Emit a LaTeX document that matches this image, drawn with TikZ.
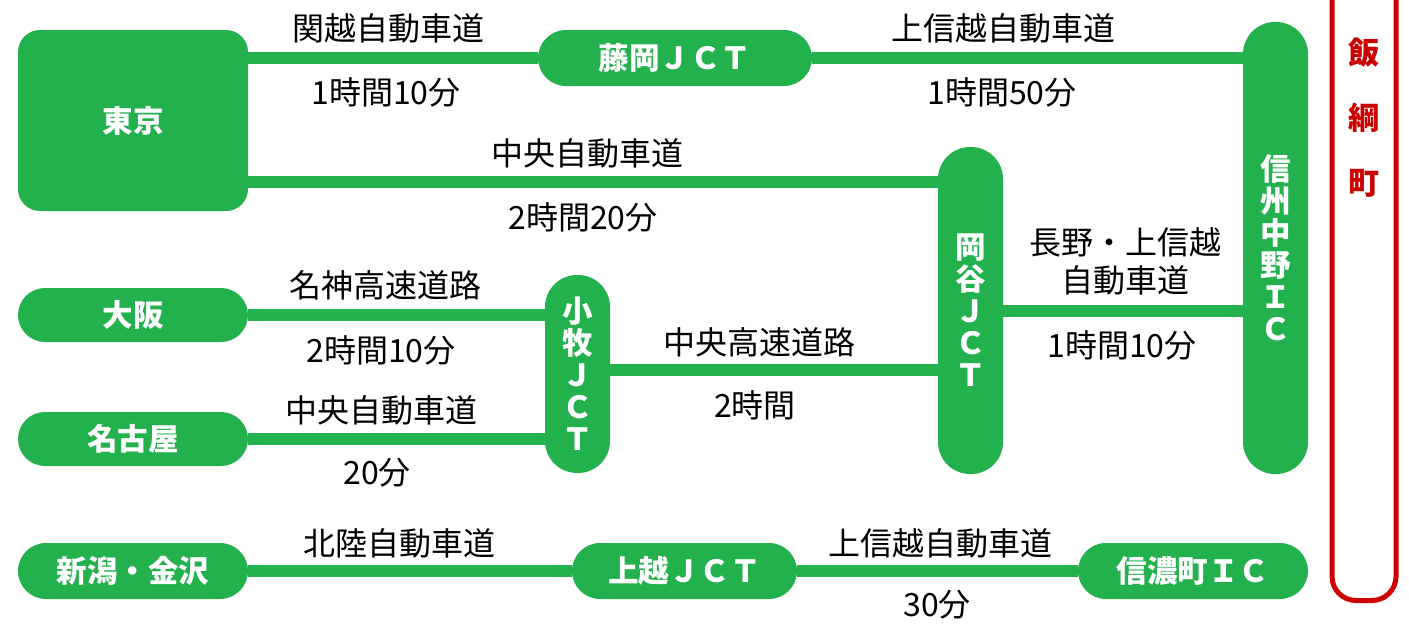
\documentclass[tikz,border=0pt]{standalone}
\usepackage{fontspec}
\newfontfamily\jp{Noto Sans CJK JP}
\definecolor{roadgreen}{RGB}{34,177,76}
\definecolor{iizunared}{RGB}{204,0,0}
\begin{document}
\begin{tikzpicture}[x=1pt, y=-1pt,
    place/.style={fill=roadgreen, text=white, inner sep=0pt, font=\jp\bfseries\fontsize{30.5}{32}\selectfont, align=center},
    road/.style={draw=roadgreen, line width=12pt},
    lbl/.style={inner sep=0pt, font=\jp\fontsize{32}{38}\selectfont, align=center}]
            \useasboundingbox (0,0) rectangle (1409,629);
            \node[place, rounded corners=22pt, minimum width=230pt, minimum height=181pt] (tokyo) at (133,120.5) {東京};
            \node[place, rounded corners=28pt, minimum width=274pt, minimum height=56pt] (fujioka) at (675,58) {藤岡ＪＣＴ};
            \node[place, rounded corners=32pt, minimum width=65pt, minimum height=452pt] (shinshu) at (1275.5,248) {信\\州\\中\\野\\Ｉ\\Ｃ};
            \node[place, rounded corners=32pt, minimum width=65pt, minimum height=327pt] (okaya) at (970.5,310.5) {岡\\谷\\Ｊ\\Ｃ\\Ｔ};
            \node[place, rounded corners=32pt, minimum width=65pt, minimum height=198pt] (komaki) at (577.5,374) {小\\牧\\Ｊ\\Ｃ\\Ｔ};
            \node[place, rounded corners=27pt, minimum width=230pt, minimum height=54pt] (osaka) at (133,315) {大阪};
            \node[place, rounded corners=27pt, minimum width=230pt, minimum height=54pt] (nagoya) at (133,439) {名古屋};
            \node[place, rounded corners=28pt, minimum width=230pt, minimum height=56pt] (niigata) at (133,571) {新潟・金沢};
            \node[place, rounded corners=28pt, minimum width=225pt, minimum height=56pt] (joetsu) at (684.5,571) {上越ＪＣＴ};
            \node[place, rounded corners=28pt, minimum width=230pt, minimum height=56pt] (shinano) at (1193,571) {信濃町ＩＣ};
            \draw[road] (fujioka.west -| tokyo.east) -- (fujioka.west);
            \draw[road] (fujioka.east) -- (fujioka.east -| shinshu.west);
            \draw[road] ([yshift=-61.5pt]tokyo.east) -- ([yshift=-61.5pt]tokyo.east -| okaya.west);
            \draw[road] (osaka.east) -- (osaka.east -| komaki.west);
            \draw[road] (nagoya.east) -- (nagoya.east -| komaki.west);
            \draw[road] ([yshift=4pt]komaki.east) -- ([yshift=4pt]komaki.east -| okaya.west);
            \draw[road] (okaya.east) -- (okaya.east -| shinshu.west);
            \draw[road] (niigata.east) -- (joetsu.west);
            \draw[road] (joetsu.east) -- (shinano.west);
            \node[lbl] (kanetsu) at (388,28) {関越自動車道};
            \node[lbl] (kanetsutime) at (386,92) {1時間10分};
            \node[lbl] (joshinetsu) at (1003,28) {上信越自動車道};
            \node[lbl] (joshinetsutime) at (1002,92) {1時間50分};
            \node[lbl] (chuo) at (587,153) {中央自動車道};
            \node[lbl] (chuotime) at (583,217) {2時間20分};
            \node[lbl] (meishin) at (385,285) {名神高速道路};
            \node[lbl] (meishintime) at (381,350) {2時間10分};
            \node[lbl] (chuonagoya) at (381,410) {中央自動車道};
            \node[lbl] (chuonagoyatime) at (377,473) {20分};
            \node[lbl] (chuokosoku) at (759,342) {中央高速道路};
            \node[lbl] (chuokosokutime) at (755,405) {2時間};
            \node[lbl] (nagano) at (1125,261) {長野・上信越\\自動車道};
            \node[lbl] (naganotime) at (1122,345) {1時間10分};
            \node[lbl] (hokuriku) at (399,543) {北陸自動車道};
            \node[lbl] (joshinetsusouth) at (940,543) {上信越自動車道};
            \node[lbl] (joshinetsusouthtime) at (937,605) {30分};
            \draw[iizunared, line width=5pt, rounded corners=24pt] (1332,-10) -- (1332,600.5) -- (1396,600.5) -- (1396,-10);
            \node[text=iizunared, inner sep=0pt, font=\jp\bfseries\fontsize{31}{65}\selectfont, align=center] (iizuna) at (1364,118) {飯\\綱\\町};

        \end{tikzpicture}
\end{document}
